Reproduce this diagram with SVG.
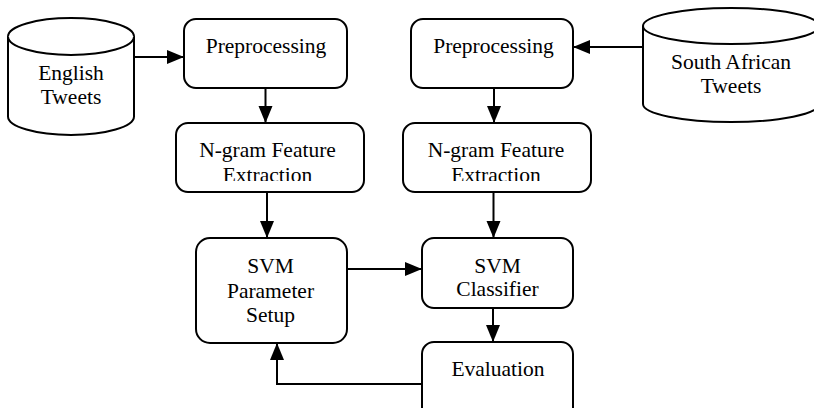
<svg xmlns="http://www.w3.org/2000/svg" width="814" height="408" viewBox="0 0 814 408">
<style>
.box{fill:#fff;stroke:#000;stroke-width:2}
.cyl{fill:#fff;stroke:#000;stroke-width:2}
.lbl{font-family:"Liberation Serif","Times New Roman",serif;font-size:21.5px;fill:#000;text-anchor:middle}
.con{fill:none;stroke:#000;stroke-width:2}
</style>
<defs>
<marker id="ah" markerUnits="userSpaceOnUse" markerWidth="18" markerHeight="15" refX="17" refY="7" orient="auto">
<path d="M0,0 L17,7 L0,14 Z" fill="#000"/>
</marker>
<clipPath id="clipL"><rect x="170" y="120" width="200" height="61"/></clipPath>
<clipPath id="clipR"><rect x="398" y="120" width="200" height="61"/></clipPath>
</defs>
<rect width="814" height="408" fill="#fff"/>
<g id="english-tweets">
<path class="cyl" d="M8,36.5 A63,18.5 0 0,1 134,36.5 L134,116.5 A63,18.5 0 0,1 8,116.5 Z"/>
<path class="cyl" fill="none" d="M8,36.5 A63,18.5 0 0,0 134,36.5"/>
<text class="lbl" x="71" y="80">English</text>
<text class="lbl" x="71" y="104">Tweets</text>
</g>
<g id="south-african-tweets">
<path class="cyl" d="M643,26 A88,18 0 0,1 819,26 L819,104 A88,18 0 0,1 643,104 Z"/>
<path class="cyl" fill="none" d="M643,26 A88,18 0 0,0 819,26"/>
<text class="lbl" x="731" y="68.5">South African</text>
<text class="lbl" x="731" y="93">Tweets</text>
</g>
<g id="preprocessing-left">
<rect class="box" x="184" y="19" width="163" height="69" rx="12"/>
<text class="lbl" x="266" y="53">Preprocessing</text>
</g>
<g id="preprocessing-right">
<rect class="box" x="411" y="19" width="162" height="69" rx="12"/>
<text class="lbl" x="493.5" y="53">Preprocessing</text>
</g>
<g id="ngram-left">
<rect class="box" x="176" y="123" width="188" height="69" rx="12"/>
<text class="lbl" x="267.5" y="157">N-gram Feature</text>
<text class="lbl" x="267.5" y="182" clip-path="url(#clipL)">Extraction</text>
</g>
<g id="ngram-right">
<rect class="box" x="403" y="123" width="188" height="69" rx="12"/>
<text class="lbl" x="496" y="156.5">N-gram Feature</text>
<text class="lbl" x="496" y="182" clip-path="url(#clipR)">Extraction</text>
</g>
<g id="svm-parameter-setup">
<rect class="box" x="196" y="238" width="151" height="105" rx="14"/>
<text class="lbl" x="270.5" y="273">SVM</text>
<text class="lbl" x="270.5" y="298">Parameter</text>
<text class="lbl" x="270.5" y="322">Setup</text>
</g>
<g id="svm-classifier">
<rect class="box" x="422" y="238" width="151" height="70" rx="12"/>
<text class="lbl" x="497.5" y="273">SVM</text>
<text class="lbl" x="497.5" y="296">Classifier</text>
</g>
<g id="evaluation">
<rect class="box" x="422" y="342" width="151" height="80" rx="12"/>
<text class="lbl" x="498" y="376">Evaluation</text>
</g>
<g id="connectors">
<path class="con" d="M134,57 L184,57" marker-end="url(#ah)"/>
<path class="con" d="M643,47 L573,47" marker-end="url(#ah)"/>
<path class="con" d="M265.5,88 L265.5,123" marker-end="url(#ah)"/>
<path class="con" d="M494,88 L494,123" marker-end="url(#ah)"/>
<path class="con" d="M267,192 L267,238" marker-end="url(#ah)"/>
<path class="con" d="M493.5,192 L493.5,238" marker-end="url(#ah)"/>
<path class="con" d="M347,269 L422,269" marker-end="url(#ah)"/>
<path class="con" d="M493,308 L493,342" marker-end="url(#ah)"/>
<path class="con" d="M422,384 L277,384 L277,343" marker-end="url(#ah)"/>
</g>
</svg>
